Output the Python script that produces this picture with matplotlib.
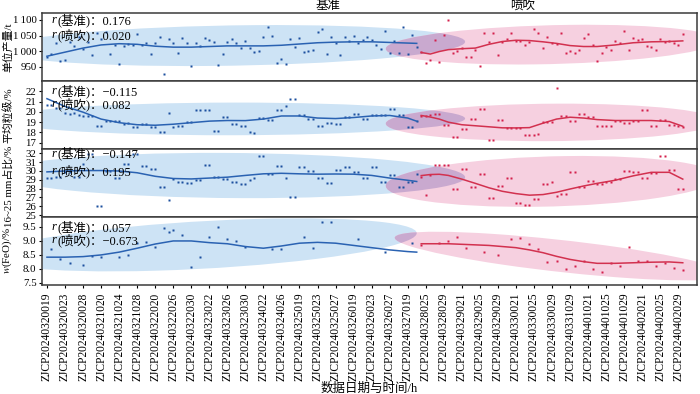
import numpy as np
import matplotlib
matplotlib.use("Agg")
import matplotlib.pyplot as plt
import matplotlib.transforms as transforms
from matplotlib.patches import Ellipse

plt.rcParams['font.family'] = ['Liberation Serif', 'Noto Sans CJK SC', 'DejaVu Serif']
plt.rcParams['mathtext.fontset'] = 'stix'
plt.rcParams['axes.unicode_minus'] = True

# record labels (one every 4 records)
tick_labels = ['ZJCP20240320019', 'ZJCP20240320023', 'ZJCP20240320028', 'ZJCP20240321020',
               'ZJCP20240321024', 'ZJCP20240321028', 'ZJCP20240322020', 'ZJCP20240322026',
               'ZJCP20240322030', 'ZJCP20240323022', 'ZJCP20240323026', 'ZJCP20240323030',
               'ZJCP20240324022', 'ZJCP20240324026', 'ZJCP20240325019', 'ZJCP20240325023',
               'ZJCP20240325027', 'ZJCP20240326019', 'ZJCP20240326023', 'ZJCP20240326027',
               'ZJCP20240327019', 'ZJCP20240328025', 'ZJCP20240328029', 'ZJCP20240329021',
               'ZJCP20240329025', 'ZJCP20240329029', 'ZJCP20240330021', 'ZJCP20240330025',
               'ZJCP20240330029', 'ZJCP20240331029', 'ZJCP20240401021', 'ZJCP20240401025',
               'ZJCP20240401029', 'ZJCP20240402021', 'ZJCP20240402025', 'ZJCP20240402029']
tick_step = 4
n_base = 83   # records 0..82 baseline
n_blow = 59   # records 83..141 injection

# unit output, t
yield_base = [982, 990, 1025, 969, 971, 1031, 1016, 1044, 1006, 1031, 989, 1059, 1038, 1062, 990,
              1020, 958, 1017, 1022, 1020, 1054, 1021, 1025, 990, 1027, 1044, 926, 1038, 1027, 995,
              1041, 1025, 954, 1025, 1017, 1041, 1035, 1029, 957, 992, 1031, 1038, 1027, 1009, 1033,
              1010, 996, 1001, 1044, 1078, 1048, 963, 976, 960, 1039, 1014, 1041, 996, 1001, 1005,
              1062, 1070, 990, 1045, 1025, 987, 1044, 1033, 1048, 1025, 1035, 1044, 1035, 1019, 1006,
              1065, 993, 1033, 995, 1078, 990, 1052, 1014]
yield_blow = [996, 962, 973, 1035, 966, 1052, 1100, 995, 1001, 1009, 982, 982, 1005, 952, 1059,
              1030, 1059, 989, 1028, 1039, 1057, 1032, 1032, 1021, 1028, 1070, 1059, 1011, 1046, 1027,
              1023, 1057, 995, 1001, 995, 1005, 1041, 1054, 1019, 968, 993, 1014, 1003, 1033, 1025,
              1065, 1005, 1041, 1035, 1038, 1016, 1012, 1005, 1038, 1030, 1033, 1025, 1021, 1054]

# mean size, %
size_base = [20.63, 20.63, 20.4, 20.4, 19.9, 19.81, 19.9, 19.7, 19.6, 19.55, 19.55, 18.67, 18.67,
             19.09, 19.09, 19.16, 19.16, 18.83, 18.9, 18.5, 18.5, 18.83, 18.83, 18.57, 18.57, 18.01,
             18.01, 19.91, 18.5, 18.63, 18.63, 19.0, 19.0, 20.2, 20.2, 20.2, 20.2, 18.11, 18.11, 19.48,
             19.48, 18.83, 18.83, 18.67, 18.67, 18.01, 17.95, 19.42, 19.42, 19.22, 19.22, 20.14, 20.14,
             20.53, 21.28, 21.28, 19.65, 19.65, 19.32, 19.32, 18.67, 18.67, 18.93, 18.93, 18.8, 18.8,
             19.48, 19.48, 19.81, 19.81, 19.26, 19.26, 19.65, 19.65, 19.65, 19.65, 20.24, 20.24, 19.72,
             19.72, 18.5, 18.5, 19.09]
size_blow = [19.58, 19.6, 19.72, 19.81, 19.81, 18.76, 18.76, 17.59, 17.59, 18.34, 18.34, 19.26, 19.26,
             20.3, 20.3, 17.29, 17.29, 19.22, 19.22, 18.44, 18.44, 18.44, 18.44, 17.78, 17.78, 17.78,
             17.85, 19.0, 19.0, 19.0, 22.36, 19.55, 19.55, 19.09, 19.09, 19.75, 19.75, 19.48, 19.48,
             18.67, 18.67, 18.6, 18.6, 19.09, 19.09, 18.93, 18.93, 19.09, 19.09, 20.2, 20.2, 18.6, 18.6,
             19.22, 19.22, 18.76, 18.76, 18.67, 18.57]

# 16~25 mm fraction, %
frac_base = [29.26, 29.26, 29.3, 29.3, 29.9, 29.9, 29.3, 29.3, 30.8, 31.96, 31.96, 26.04, 26.04, 30.0,
             30.0, 29.26, 29.26, 30.78, 30.78, 31.96, 31.96, 30.56, 30.56, 30.22, 30.22, 28.15, 28.15,
             26.7, 29.08, 28.81, 28.81, 28.63, 28.63, 28.93, 28.93, 30.67, 30.67, 29.37, 29.37, 29.08,
             29.08, 28.7, 28.7, 28.56, 28.56, 28.93, 29.19, 31.7, 31.7, 29.67, 29.67, 30.56, 30.56, 29.19,
             27.04, 27.04, 30.41, 30.41, 30.0, 30.0, 29.26, 29.26, 28.63, 28.63, 30.11, 30.11, 30.41,
             30.41, 29.85, 29.85, 29.19, 29.19, 30.41, 30.41, 28.74, 28.74, 29.56, 29.56, 28.19, 28.19,
             28.81, 28.81, 29.67]
frac_blow = [29.37, 27.33, 29.5, 30.67, 30.67, 30.67, 30.67, 27.96, 27.96, 30.22, 30.22, 28.15, 28.15,
             29.67, 29.67, 26.89, 26.89, 28.33, 28.33, 29.19, 29.19, 26.41, 26.41, 26.15, 26.15, 26.85,
             26.85, 28.52, 28.52, 28.7, 27.22, 27.44, 27.44, 29.93, 29.93, 28.19, 28.19, 28.89, 28.89,
             28.52, 28.52, 28.81, 28.81, 29.08, 29.08, 30.0, 30.0, 29.85, 29.85, 29.19, 29.19, 29.82,
             29.82, 31.67, 31.67, 30.11, 30.11, 27.96, 27.96]

# FeO, % (sparser sampling)
feo_base_idx = [1, 3, 5, 8, 10, 12, 16, 18, 20, 22, 24, 26, 27, 28, 30, 32, 34, 36, 38, 40, 42, 44,
                50, 52, 57, 59, 61, 63, 69, 75, 81]
feo_base = [8.71, 8.35, 8.20, 8.14, 8.46, 8.44, 8.44, 8.50, 8.94, 8.98, 8.80, 9.45, 9.31, 9.39, 9.21,
            8.06, 8.44, 9.15, 9.51, 9.07, 9.01, 8.80, 8.71, 8.71, 9.15, 8.76, 9.67, 9.69, 9.07, 8.6, 8.94]
feo_blow_idx = [83, 87, 89, 91, 93, 97, 100, 103, 105, 107, 109, 111, 113, 115, 117, 119, 121, 123,
                125, 127, 129, 131, 133, 135, 137, 139, 141]
feo_blow = [8.86, 8.94, 9.01, 9.15, 8.74, 8.6, 8.5, 9.07, 9.12, 8.88, 8.71, 8.25, 8.3, 8.0, 8.1,
            8.3, 8.0, 7.9, 8.2, 8.1, 8.80, 8.3, 8.3, 8.1, 8.2, 8.05, 7.95]

# trend curves
trend_base_idx = [0, 4, 8, 12, 16, 20, 24, 28, 32, 36, 40, 44, 48, 52, 56, 60, 64, 68, 72, 76, 80, 82]
trend_blow_idx = [83, 85, 87, 89, 92, 95, 98, 101, 104, 107, 110, 113, 116, 119, 122, 126, 130, 134,
                  138, 141]
yield_tb = [984, 997, 1010, 1020, 1024, 1022, 1016, 1013, 1013, 1015, 1017, 1017, 1017, 1019, 1023,
            1027, 1029, 1030, 1030, 1028, 1026, 1025]
yield_tr = [996, 991, 999, 1005, 1008, 1010, 1022, 1031, 1035, 1034, 1030, 1025, 1018, 1015, 1015,
            1020, 1027, 1030, 1031, 1033]
size_tb = [21.28, 20.53, 19.97, 19.3, 18.95, 18.75, 18.7, 18.8, 18.95, 19.1, 19.16, 19.15, 19.3, 19.6,
           19.6, 19.4, 19.35, 19.45, 19.6, 19.65, 19.4, 19.09]
size_tr = [19.65, 19.5, 19.3, 19.0, 18.75, 18.65, 18.55, 18.45, 18.44, 18.47, 18.9, 19.3, 19.48, 19.4,
           19.25, 19.16, 19.16, 19.16, 19.06, 18.6]
frac_tb = [29.9, 30.0, 30.05, 30.05, 30.0, 29.8, 29.4, 29.15, 29.1, 29.2, 29.3, 29.5, 29.68, 29.74,
           29.68, 29.64, 29.66, 29.64, 29.5, 29.2, 28.95, 28.81]
frac_tr = [29.48, 29.6, 29.63, 29.5, 29.08, 28.6, 28.1, 27.7, 27.44, 27.26, 27.33, 27.59, 27.96, 28.3,
           28.6, 28.95, 29.45, 29.85, 29.85, 29.08]
feo_tb = [8.42, 8.42, 8.44, 8.5, 8.6, 8.74, 8.89, 9.0, 9.0, 8.94, 8.9, 8.8, 8.74, 8.82, 8.92, 8.95,
          8.92, 8.84, 8.76, 8.68, 8.62, 8.6]
feo_tr = [8.9, 8.9, 8.9, 8.9, 8.88, 8.86, 8.84, 8.8, 8.76, 8.68, 8.58, 8.45, 8.34, 8.26, 8.2, 8.2,
          8.22, 8.24, 8.25, 8.22]

r_base = ['0.176', '\u22120.115', '\u22120.147', '0.057']
r_blow = ['0.020', '0.082', '0.195', '\u22120.673']
ylabels = ['单位产量/t', '平均粒级/%', '16~25 mm占比/%', '$w$(FeO)/%']
ylabel_pos = [0.5, 0.5, 0.45, 0.5]
ylims = [(905, 1122), (16.4, 23.0), (24.8, 32.5), (7.43, 9.86)]
yticks = [[950, 1000, 1050, 1100], [17, 18, 19, 20, 21, 22], [25, 26, 27, 28, 29, 30, 31, 32],
          [7.5, 8.0, 8.5, 9.0, 9.5]]
r_ypos = [(0.896, 0.674), (0.846, 0.654), (0.93, 0.67), (0.85, 0.66)]

c_blue_pt, c_red_pt = '#1b4f9e', '#d41f4b'
c_blue_ln, c_red_ln = '#2a62b2', '#d2314f'
c_blue_el, c_red_el, c_mix_el = '#cde3f5', '#f6d0e0', '#c9a9cf'


def conf_ellipse(ax, x, y, color, n_std=2.146, zorder=1):
    x = np.asarray(x, float)
    y = np.asarray(y, float)
    cov = np.cov(x, y)
    p = cov[0, 1] / np.sqrt(cov[0, 0] * cov[1, 1])
    e = Ellipse((0, 0), width=2 * np.sqrt(1 + p), height=2 * np.sqrt(1 - p),
                facecolor=color, edgecolor='none', zorder=zorder)
    t = (transforms.Affine2D().rotate_deg(45)
         .scale(np.sqrt(cov[0, 0]) * n_std, np.sqrt(cov[1, 1]) * n_std)
         .translate(x.mean(), y.mean()))
    e.set_transform(t + ax.transData)
    ax.add_patch(e)
    return e


idx_base = np.arange(n_base)
idx_blow = np.arange(n_base, n_base + n_blow)
panels = [
    (idx_base, yield_base, idx_blow, yield_blow, yield_tb, yield_tr),
    (idx_base, size_base, idx_blow, size_blow, size_tb, size_tr),
    (idx_base, frac_base, idx_blow, frac_blow, frac_tb, frac_tr),
    (feo_base_idx, feo_base, feo_blow_idx, feo_blow, feo_tb, feo_tr),
]

fig, axes = plt.subplots(4, 1, figsize=(7, 3.94), dpi=100, sharex=True)
fig.subplots_adjust(left=0.06, right=0.996, top=0.967, bottom=0.277, hspace=0)

for k, ax in enumerate(axes):
    xb, yb, xr, yr, tb, tr = panels[k]
    eb = conf_ellipse(ax, xb, yb, c_blue_el, zorder=1)
    conf_ellipse(ax, xr, yr, c_red_el, zorder=1.1)
    # overlap of the two regions
    em = conf_ellipse(ax, xr, yr, c_mix_el, zorder=1.2)
    em.set_clip_path(eb)
    ax.plot(xb, yb, 's', ms=2.0, color=c_blue_pt, mec='none', zorder=3)
    ax.plot(xr, yr, 's', ms=2.0, color=c_red_pt, mec='none', zorder=3)
    ax.plot(trend_base_idx, tb, color=c_blue_ln, lw=1.1, zorder=4)
    ax.plot(trend_blow_idx, tr, color=c_red_ln, lw=1.1, zorder=4)
    ax.set_ylim(*ylims[k])
    ax.set_yticks(yticks[k])
    if k == 0:
        ax.set_yticklabels([f'{v:,}'.replace(',', '\u2009') for v in yticks[k]])
    elif k == 3:
        ax.set_yticklabels([f'{v:.1f}' for v in yticks[k]])
    ax.tick_params(axis='y', labelsize=7.8, length=2.5, width=0.8, pad=1.5)
    ax.tick_params(axis='x', length=2, width=0.8)
    for s in ax.spines.values():
        s.set_color('#3a3a3a')
        s.set_linewidth(1.1)
    ax.set_ylabel(ylabels[k], fontsize=7.8)
    ax.yaxis.set_label_coords(-0.043, ylabel_pos[k])
    y1, y2 = r_ypos[k]
    for yy, lab, val in ((y1, '基准', r_base[k]), (y2, '喷吹', r_blow[k])):
        ax.text(0.015, yy, 'r', transform=ax.transAxes, fontsize=9, style='italic',
                va='center', ha='left', zorder=6)
        ax.annotate(f'({lab})：{val}', xy=(0.015, yy), xycoords='axes fraction',
                    xytext=(3.8, 0), textcoords='offset points', fontsize=9,
                    va='center', ha='left', zorder=6)

axes[0].text(0.437, 1.02, '基准', transform=axes[0].transAxes, fontsize=9, ha='center', va='bottom')
axes[0].text(0.733, 1.02, '喷吹', transform=axes[0].transAxes, fontsize=9, ha='center', va='bottom')

ax = axes[-1]
ax.set_xlim(-1.1, 144.2)
ax.set_xticks(np.arange(len(tick_labels)) * tick_step)
ax.set_xticklabels(tick_labels, rotation=90, fontsize=8.3)
ax.set_xlabel('数据日期与时间/h', fontsize=9, labelpad=1)

fig.savefig('out.png', dpi=100)
